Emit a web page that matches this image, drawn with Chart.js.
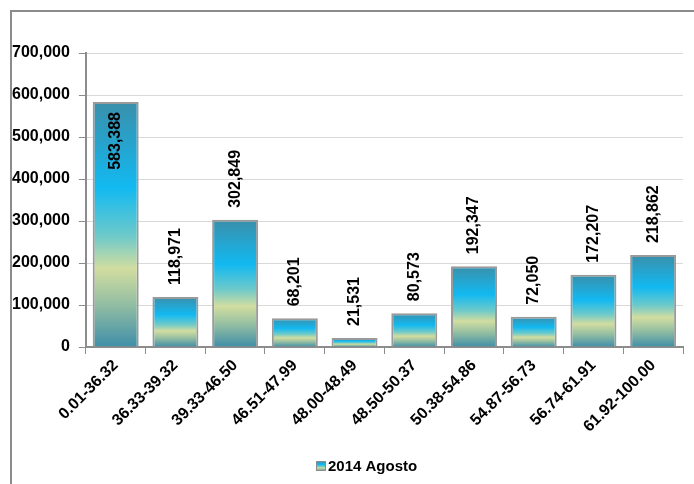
<!DOCTYPE html>
<html>
<head>
<meta charset="utf-8">
<script src="https://cdn.jsdelivr.net/npm/chart.js@4/dist/chart.umd.min.js"></script>
<style>
  html, body { margin: 0; padding: 0; background: #fff; }
  #wrap { width: 694px; height: 484px; position: relative; }
</style>
</head>
<body>
<div id="wrap"><canvas id="myChart" width="694" height="484"></canvas></div>
<script>
const categories = ['0.01-36.32', '36.33-39.32', '39.33-46.50', '46.51-47.99', '48.00-48.49',
  '48.50-50.37', '50.38-54.86', '54.87-56.73', '56.74-61.91', '61.92-100.00'];
const values = [583388, 118971, 302849, 68201, 21531, 80573, 192347, 72050, 172207, 218862];
const seriesName = '2014 Agosto';

const FONT = '"Liberation Sans", Arial, sans-serif';

function fillGradient(c, top, base) {
  const g = c.createLinearGradient(0, top, 0, base);
  g.addColorStop(0, '#3a8fab');
  g.addColorStop(0.35, '#12b9f1');
  g.addColorStop(0.55, '#6fcac9');
  g.addColorStop(0.68, '#d2dda0');
  g.addColorStop(0.82, '#95bfa2');
  g.addColorStop(1, '#3f8ea8');
  return g;
}

function barGradient(ctx) {
  const chart = ctx.chart;
  if (!chart.chartArea || ctx.type !== 'data') return '#3ab0d0';
  const y = chart.scales.y;
  const top = y.getPixelForValue(ctx.raw);
  const base = y.getPixelForValue(0);
  if (!isFinite(top) || base - top < 1) return '#3ab0d0';
  return fillGradient(chart.ctx, top, base);
}

// outer frame, only top and left edges visible
const framePlugin = {
  id: 'frame',
  beforeDraw(chart) {
    const c = chart.ctx;
    c.save();
    c.strokeStyle = '#8c8c8c';
    c.lineWidth = 2;
    c.beginPath();
    c.moveTo(11, chart.height + 5);
    c.lineTo(11, 11);
    c.lineTo(chart.width + 5, 11);
    c.stroke();
    c.restore();
  }
};

// vertical value labels above each bar (inside if no room)
const valueLabels = {
  id: 'valueLabels',
  afterDatasetsDraw(chart) {
    const c = chart.ctx;
    const meta = chart.getDatasetMeta(0);
    c.save();
    c.font = 'bold 16px ' + FONT;
    c.fillStyle = '#000';
    c.textBaseline = 'middle';
    meta.data.forEach((bar, i) => {
      const txt = values[i].toLocaleString('en-US');
      const w = c.measureText(txt).width;
      c.save();
      const above = bar.y - 12;
      if (above - w < chart.chartArea.top) {
        c.translate(bar.x, bar.y + 10);
        c.rotate(-Math.PI / 2);
        c.textAlign = 'right';
      } else {
        c.translate(bar.x, above);
        c.rotate(-Math.PI / 2);
        c.textAlign = 'left';
      }
      c.fillText(txt, 0, 0);
      c.restore();
    });
    c.restore();
  }
};

// legend: small gradient square tight against the bold series name
const legendPlugin = {
  id: 'seriesLegend',
  afterDraw(chart) {
    const c = chart.ctx;
    const x = 316, y = 466;
    c.save();
    c.fillStyle = fillGradient(c, y - 5, y + 5);
    c.fillRect(x, y - 5, 9, 10);
    c.strokeStyle = '#8c8c8c';
    c.lineWidth = 1;
    c.strokeRect(x + 0.5, y - 4.5, 9, 9);
    c.font = 'bold 15px ' + FONT;
    c.fillStyle = '#000';
    c.textBaseline = 'middle';
    c.textAlign = 'left';
    c.fillText(seriesName, x + 12, y + 1);
    c.restore();
  }
};

new Chart(document.getElementById('myChart'), {
  type: 'bar',
  data: {
    labels: categories,
    datasets: [{
      label: seriesName,
      data: values,
      backgroundColor: barGradient,
      borderColor: '#9a9a9a',
      borderWidth: 2,
      barPercentage: 0.77,
      categoryPercentage: 1
    }]
  },
  options: {
    responsive: false,
    animation: false,
    layout: { padding: { left: 3, right: 11, top: 53, bottom: 35 } },
    plugins: {
      legend: { display: false },
      tooltip: { enabled: false }
    },
    scales: {
      x: {
        afterFit: s => { s.height = 102; },
        grid: { display: true, drawOnChartArea: false, offset: true, tickLength: 7, color: '#8c8c8c' },
        border: { color: '#8c8c8c', width: 2 },
        ticks: {
          maxRotation: 45, minRotation: 45,
          autoSkip: false,
          color: '#000',
          font: { family: FONT, size: 16, weight: 'bold' },
          padding: 2
        }
      },
      y: {
        min: 0,
        max: 700000,
        ticks: {
          stepSize: 100000,
          color: '#000',
          padding: 9,
          font: { family: FONT, size: 16, weight: 'bold' },
          callback: v => v.toLocaleString('en-US')
        },
        grid: { color: '#d9d9d9', tickColor: '#8c8c8c', tickLength: 7 },
        border: { color: '#8c8c8c', width: 2 }
      }
    }
  },
  plugins: [framePlugin, valueLabels, legendPlugin]
});
</script>
</body>
</html>
